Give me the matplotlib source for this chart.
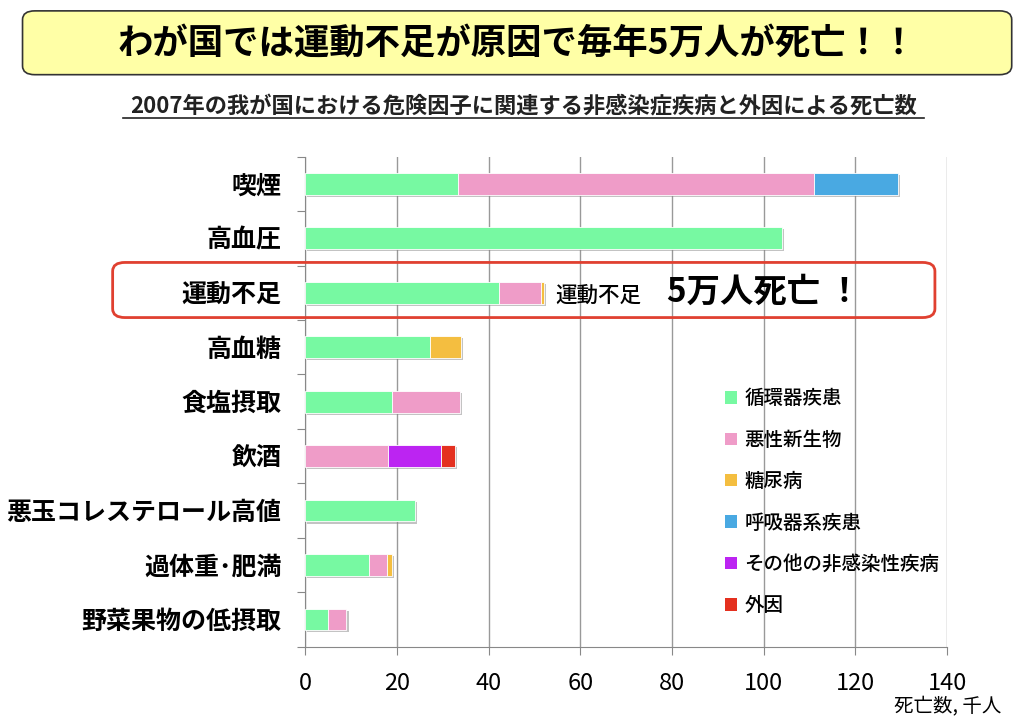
import matplotlib
matplotlib.use('Agg')
import matplotlib.pyplot as plt
import matplotlib.patheffects as pe
from matplotlib.patches import FancyBboxPatch, Patch
import numpy as np

plt.rcParams['font.family'] = ['Noto Sans CJK JP', 'DejaVu Sans']

# 危険因子 (上から順)
factors = ['喫煙', '高血圧', '運動不足', '高血糖', '食塩摂取', '飲酒',
           '悪玉コレステロール高値', '過体重･肥満', '野菜果物の低摂取']
diseases = ['循環器疾患', '悪性新生物', '糖尿病', '呼吸器系疾患', 'その他の非感染性疾病', '外因']
colors = ['#77F9A2', '#EF9CC8', '#F4BE40', '#49A9E2', '#BC24F2', '#E4301F']

# 死亡数 (千人)
circulatory = [33.4, 104.0, 42.3, 27.3, 19.0, 0.0, 24.0, 14.0, 5.0]
cancer      = [77.6, 0.0, 9.2, 0.0, 14.8, 18.1, 0.0, 3.9, 4.0]
diabetes    = [0.0, 0.0, 0.6, 6.7, 0.0, 0.0, 0.0, 1.1, 0.0]
respiratory = [18.3, 0.0, 0.0, 0.0, 0.0, 0.0, 0.0, 0.0, 0.0]
other_ncd   = [0.0, 0.0, 0.0, 0.0, 0.0, 11.6, 0.0, 0.0, 0.0]
external    = [0.0, 0.0, 0.0, 0.0, 0.0, 3.0, 0.0, 0.0, 0.0]
series = [circulatory, cancer, diabetes, respiratory, other_ncd, external]

fig = plt.figure(figsize=(10.24, 7.25), dpi=100)
ax = fig.add_axes([0.298, 0.108, 0.627, 0.676])

y = np.arange(len(factors))
left = np.zeros(len(factors))
shadow = [pe.SimplePatchShadow(offset=(1.5, -1.5), shadow_rgbFace='#888888', alpha=0.5), pe.Normal()]
for vals, col in zip(series, colors):
    v = np.array(vals)
    bars = ax.barh(y, v, left=left, height=0.4, color=col, edgecolor='white', linewidth=0.6, zorder=3)
    for b, val in zip(bars, v):
        if val > 0:
            b.set_path_effects(shadow)
        else:
            b.set_visible(False)
    left += v

ax.set_xlim(0, 140)
ax.set_ylim(len(factors) - 0.5, -0.5)
ax.set_xticks(np.arange(0, 141, 20))
ax.tick_params(axis='x', labelsize=17, length=6, color='#888888', pad=12)
ax.set_yticks(np.arange(-0.5, len(factors), 1.0))
ax.set_yticklabels([])
ax.set_yticks(y, minor=True)
ax.set_yticklabels(factors, minor=True, fontsize=18, fontweight='bold')
ax.tick_params(axis='y', which='major', length=6, color='#888888')
ax.tick_params(axis='y', which='minor', length=0, pad=17)
ax.grid(axis='x', color='#999999', linewidth=1.0, zorder=0)
for s in ['top', 'right']:
    ax.spines[s].set_visible(False)
for s in ['left', 'bottom']:
    ax.spines[s].set_color('#888888')

# 凡例
handles = [Patch(facecolor=c, edgecolor='none') for c in colors]
fig.legend(handles, diseases, loc='upper left', bbox_to_anchor=(0.691, 0.487), frameon=False,
           prop={'weight': 'medium', 'size': 14}, handlelength=0.6, handleheight=0.6,
           handletextpad=0.4, labelspacing=1.15)

# 注記
ax.text(54.5, 2.05, '運動不足', fontsize=15.5, fontweight='medium', va='center', ha='left', zorder=5)
ax.text(79, 2.0, '5万人死亡 ！', fontsize=24, fontweight='bold', va='center', ha='left', zorder=5)
fig.patches.append(FancyBboxPatch((0.11, 0.562), 0.803, 0.076, boxstyle='round,pad=0,rounding_size=0.012',
                                  transform=fig.transFigure, facecolor='none', edgecolor='#E04030', linewidth=2))

# タイトル
fig.patches.append(FancyBboxPatch((0.022, 0.897), 0.966, 0.088, boxstyle='round,pad=0,rounding_size=0.012',
                                  transform=fig.transFigure, facecolor='#FFFFA6', edgecolor='#333333', linewidth=1.2))
fig.text(0.505, 0.941, 'わが国では運動不足が原因で毎年5万人が死亡！！', fontsize=25.5, fontweight='bold',
         ha='center', va='center')
fig.text(0.511, 0.852, '2007年の我が国における危険因子に関連する非感染症疾病と外因による死亡数', fontsize=16,
         fontweight='bold', ha='center', va='center', color='#222222')
fig.add_artist(plt.Line2D([0.12, 0.902], [0.837, 0.837], color='#222222', linewidth=1.2))

fig.text(0.978, 0.025, '死亡数, 千人', fontsize=14, ha='right', va='center')

fig.savefig('out.png', dpi=100)
